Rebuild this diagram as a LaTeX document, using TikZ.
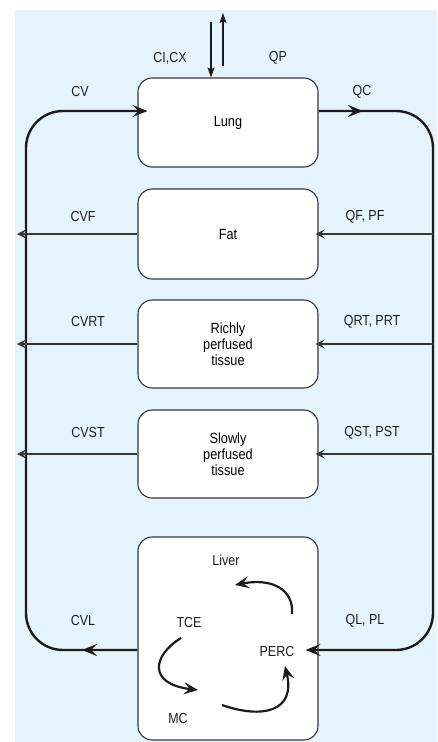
\documentclass[tikz,border=0pt]{standalone}
\usepackage{fontspec}
\setmainfont{Liberation Sans}[FakeStretch=0.86]
\usetikzlibrary{arrows.meta}
\definecolor{panel}{RGB}{229,244,252}
\definecolor{ink}{RGB}{28,28,28}
\definecolor{rim}{RGB}{55,55,55}
\tikzset{
  organ/.style={draw=rim, line width=1.1pt, rounded corners=14pt, fill=white,
    minimum width=180pt, inner sep=0pt, align=center,
    font=\fontsize{14.8}{16}\selectfont},
  lbl/.style={font=\fontsize{14.5}{16}\selectfont, inner sep=0pt, text=ink},
  blood/.style={draw=ink, line width=2.4pt, rounded corners=37pt},
  bigtip/.style={-{Stealth[length=15pt,width=12pt,inset=6pt]}},
  branch/.style={draw=rim, line width=1.3pt,
    -{Stealth[length=9pt,width=9pt,inset=3.5pt]}},
  gas/.style={draw=ink, line width=1.2pt,
    -{Stealth[length=10pt,width=7pt,inset=2pt]}},
  metab/.style={draw=ink, line width=2.2pt,
    -{Stealth[length=14pt,width=12pt,inset=5.5pt]}},
}
\begin{document}
\begin{tikzpicture}[x=1pt,y=-1pt]
\useasboundingbox (0,0) rectangle (437,742);
\fill[panel] (15,10) rectangle (437,742);

% compartments
\node[organ, minimum height=89pt] (lung)  at (228,122.5) {Lung};
\node[organ, minimum height=90pt] (fat)   at (228,234) {Fat};
\node[organ, minimum height=88pt] (rich)  at (228,344) {Richly\\perfused\\tissue};
\node[organ, minimum height=88pt] (slow)  at (228,454) {Slowly\\perfused\\tissue};
\node[organ, minimum height=203pt] (liver) at (228,638.5) {};

% circulation rails
\coordinate (tl) at (26,111);
\coordinate (tr) at (433,111);
\coordinate (bl) at (26,650);
\coordinate (br) at (433,650);
\coordinate (vout) at (17,0);

% arterial side: lung -> right rail -> liver
\draw[blood, bigtip, shorten >=-13pt] (lung.east |- tr) -- (tr) -- (br) -- (liver.east |- br);
\draw[blood, bigtip] (lung.east |- tr) -- (363,111);
% venous side: liver -> left rail -> lung
\draw[blood, bigtip, shorten >=-10pt] (liver.west |- bl) -- (bl) -- (tl) -- (lung.west |- tl);
\draw[blood, bigtip] (liver.west |- bl) -- (82,650);

% tissue branches
\foreach \t in {fat,rich,slow}{
  \draw[branch, shorten >=-3pt] (tr |- \t.east) -- (\t.east);
  \draw[branch] (\t.west) -- (vout |- \t.west);
}

% inhaled / exhaled air
\coordinate (inair) at (211,22);
\coordinate (outair) at (223,13);
\draw[gas] (inair) -- (inair |- lung.north);
\draw[gas] (outair |- 0,66) -- (outair);

% flow and concentration labels
\node[lbl] (cicx) at (170,58) {CI,CX};
\node[lbl] (qp)   at (278,58) {QP};
\node[lbl] (cv)   at (80,92)  {CV};
\node[lbl] (qc)   at (362,92) {QC};
\node[lbl] (cvf)  at (83,217) {CVF};
\node[lbl] (qf)   at (365,217) {QF, PF};
\node[lbl] (cvrt) at (88,322) {CVRT};
\node[lbl] (qrt)  at (372,322) {QRT, PRT};
\node[lbl] (cvst) at (88,433) {CVST};
\node[lbl] (qst)  at (372,433) {QST, PST};
\node[lbl] (cvl)  at (83,621) {CVL};
\node[lbl] (ql)   at (365,621) {QL, PL};

% liver metabolism
\node[lbl] (livername) at (226,560) {Liver};
\node[lbl] (tce)  at (189,623) {TCE};
\node[lbl] (perc) at (277,652) {PERC};
\node[lbl] (mc)   at (178,718) {MC};

\coordinate (m1a) at (292,614);
\coordinate (m1b) at (235,585);
\coordinate (m2a) at (181,638);
\coordinate (m2b) at (198,690);
\coordinate (m3a) at (222,705);
\coordinate (m3b) at (285,666);
\draw[metab] (m1a) .. controls (294,588) and (270,578) .. (m1b);
\draw[metab] (m2a) .. controls (152,656) and (148,684) .. (m2b);
\draw[metab] (m3a) .. controls (262,719) and (296,712) .. (m3b);
\end{tikzpicture}
\end{document}
